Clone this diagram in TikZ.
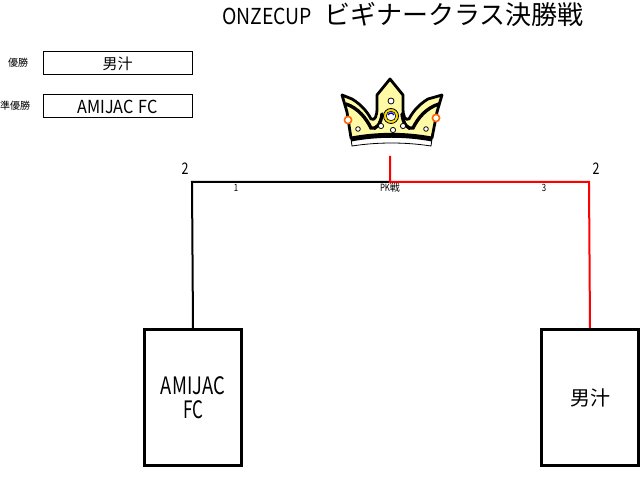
\documentclass[tikz,border=0pt]{standalone}
\usepackage{fontspec}
\newfontfamily\jp{Noto Sans CJK JP}
\newfontfamily\jpn[FakeStretch=0.78]{Noto Sans CJK JP}
\begin{document}
\begin{tikzpicture}[x=1pt,y=-1pt,
  lbl/.style={inner sep=0pt,font=\jp\fontsize{10}{10}\selectfont},
  winbox/.style={draw,line width=1pt,minimum width=149pt,minimum height=23pt,inner sep=0pt},
  teambox/.style={draw,line width=3pt,minimum width=97pt,minimum height=136pt,inner sep=0pt,align=center,font=\jp\fontsize{24}{24}\selectfont},
  blk/.style={line width=2pt,black},
  redl/.style={line width=2pt,red},
  gem/.style={fill=white,draw=black,line width=0.8pt},
  ball/.style={fill=white,draw=orange!80!red,line width=1.6pt}]
\useasboundingbox (0,0) rectangle (641,478);
% title
\node[inner sep=0pt,anchor=base west] (title) at (222,25) {\jp\resizebox{90pt}{\height}{\fontsize{22}{22}\selectfont ONZECUP}\hspace{12pt}\fontsize{26}{26}\selectfont ビギナークラス決勝戦};
% winners
\node[lbl,anchor=west] (yusho) at (8,63) {優勝};
\node[lbl,anchor=west] (junyusho) at (0,106) {準優勝};
\node[winbox] (w1) at (117.5,63.5) {\jp\fontsize{15}{15}\selectfont 男汁};
\node[winbox] (w2) at (117.5,106.5) {\jp\resizebox{80pt}{\height}{\fontsize{18}{18}\selectfont AMIJAC\hspace{5pt}FC}};
% crown
\begin{scope}
\filldraw[fill=white,draw=black,line width=0.8pt] (351,139) .. controls (378,134) and (405,134) .. (432,139) -- (431,146) .. controls (405,142) and (378,142) .. (352,146) -- cycle;
\filldraw[fill=yellow!35!white,draw=black,line width=2.8pt,line join=round]
  (342,95) -- (352,99) .. controls (362,105) and (368,113) .. (371,119)
  .. controls (375,121) and (377,116) .. (377,108) -- (377,95) -- (390,79) -- (403,95) -- (403,108)
  .. controls (403,116) and (405,121) .. (409,119)
  .. controls (412,113) and (418,105) .. (428,99) -- (442,95)
  -- (437,112) -- (432,138) .. controls (405,133) and (378,133) .. (351,138) -- (347,112) -- cycle;
\draw[black,line width=3.4pt,line cap=round] (346,104) .. controls (358,108) and (366,118) .. (371,128) .. controls (376,130) and (381,124) .. (382,114);
\draw[black,line width=3.4pt,line cap=round] (439,104) .. controls (426,108) and (418,118) .. (413,128) .. controls (408,130) and (403,124) .. (402,114);
\draw[black,line width=3pt] (351,140) .. controls (378,135) and (405,135) .. (432,140);
\filldraw[fill=yellow!80!orange,draw=black,line width=0.8pt] (391,116) circle (7.5);
\filldraw[fill=white,draw=black,line width=0.6pt] (391,116) circle (4.8);
\draw[blue!70!black,line width=1.3pt] (388,115) arc (200:340:3.2);
\filldraw[ball] (348,120) circle (3.6);
\filldraw[ball] (436,118) circle (3.6);
\filldraw[gem] (391,101) circle (3);
\filldraw[gem] (381,126) circle (2.6);
\filldraw[gem] (403,126) circle (2.6);
\filldraw[gem] (393,130) circle (2.6);
\filldraw[gem] (358,129) circle (2.3);
\filldraw[gem] (426,129) circle (2.3);
\end{scope}
% bracket
\coordinate (top) at (390,156);
\coordinate (mid) at (390,182);
\coordinate (lc) at (192,182);
\coordinate (rc) at (589,182);
\node[teambox] (t1) at (193,397.5) {\resizebox{64pt}{\height}{AMIJAC}\\\resizebox{20pt}{\height}{FC}};
\node[teambox] (t2) at (590,397.5) {\fontsize{20}{20}\selectfont 男汁};
\draw[blk] (mid) -- (lc) -- (t1.north);
\draw[redl] (top) -- (mid) -- (rc) -- (t2.north);
\node[inner sep=0pt] (s1) at (185,169) {\jpn\fontsize{16}{16}\selectfont 2};
\node[inner sep=0pt] (s2) at (596,169) {\jpn\fontsize{16}{16}\selectfont 2};
\node[inner sep=0pt] (n1) at (236,188) {\jpn\fontsize{10}{10}\selectfont 1};
\node[inner sep=0pt] (pk) at (390,188) {\jpn\fontsize{10}{10}\selectfont PK\jp 戦};
\node[inner sep=0pt] (n3) at (544,188) {\jpn\fontsize{10}{10}\selectfont 3};
\end{tikzpicture}
\end{document}
